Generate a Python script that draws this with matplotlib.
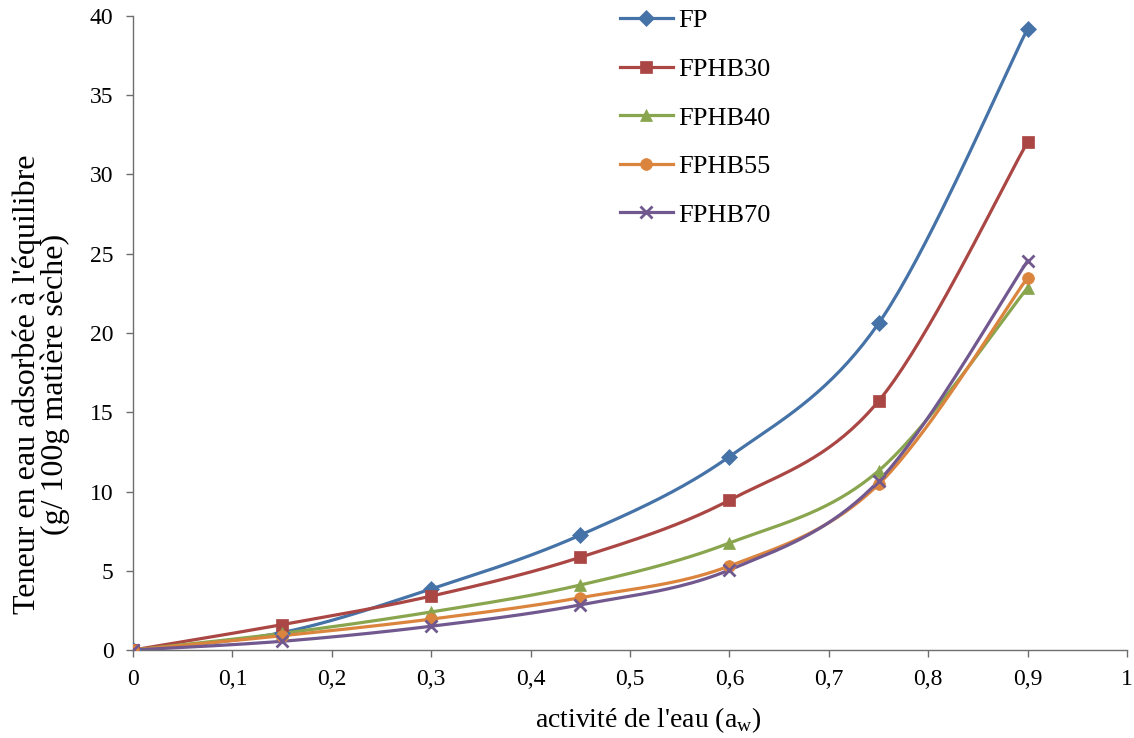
import numpy as np
import matplotlib
matplotlib.use("Agg")
import matplotlib.pyplot as plt
from matplotlib.lines import Line2D

aw = [0, 0.15, 0.3, 0.45, 0.6, 0.75, 0.9]
series_names = ["FP", "FPHB30", "FPHB40", "FPHB55", "FPHB70"]
fp = [0, 1.1, 3.85, 7.25, 12.2, 20.6, 39.2]
fphb30 = [0, 1.6, 3.4, 5.85, 9.45, 15.7, 32.05]
fphb40 = [0, 1.05, 2.4, 4.1, 6.75, 11.3, 22.85]
fphb55 = [0, 0.9, 1.95, 3.3, 5.3, 10.45, 23.5]
fphb70 = [0, 0.55, 1.5, 2.85, 5.05, 10.65, 24.55]
xticks = [0, 0.1, 0.2, 0.3, 0.4, 0.5, 0.6, 0.7, 0.8, 0.9, 1]
xticklabels = ["0", "0,1", "0,2", "0,3", "0,4", "0,5", "0,6", "0,7", "0,8", "0,9", "1"]
yticks = [0, 5, 10, 15, 20, 25, 30, 35, 40]

colors = ["#4572A7", "#AA4643", "#89A54E", "#DB843D", "#71588F"]
markers = ["D", "s", "^", "o", "x"]
msizes = [8, 8.5, 9, 8.5, 9]

plt.rcParams['font.family'] = ['Liberation Serif', 'DejaVu Serif']

def smooth(x, y, n=40):
    x = np.asarray(x, float); y = np.asarray(y, float)
    P = np.column_stack([x, y])
    Pe = np.vstack([P[0], P, P[-1]])
    out = []
    t = np.linspace(0, 1, n)[:, None]
    for i in range(len(P) - 1):
        p0, p1, p2, p3 = Pe[i], Pe[i+1], Pe[i+2], Pe[i+3]
        c1 = p1 + (p2 - p0) / 6
        c2 = p2 - (p3 - p1) / 6
        b = (1-t)**3*p1 + 3*(1-t)**2*t*c1 + 3*(1-t)*t**2*c2 + t**3*p2
        out.append(b if i == 0 else b[1:])
    B = np.vstack(out)
    return B[:, 0], B[:, 1]

fig = plt.figure(figsize=(11.34, 7.38), dpi=100)
ax = fig.add_axes([133/1134, 1-650/738, (1127-133)/1134, (650-16)/738])

data = [fp, fphb30, fphb40, fphb55, fphb70]
handles = []
for name, ys, c, m, ms in zip(series_names, data, colors, markers, msizes):
    sx, sy = smooth(aw, ys)
    ax.plot(sx, sy, color=c, lw=2.3, solid_capstyle='round', zorder=2)
    mew = 2 if m == 'x' else 0.5
    ax.plot(aw, ys, linestyle='none', marker=m, color=c, markersize=ms,
            markeredgewidth=mew, markeredgecolor=c, zorder=3)
    handles.append(Line2D([0], [0], color=c, lw=2.3, marker=m, markersize=ms,
                          markeredgewidth=mew, markeredgecolor=c))

ax.set_xlim(0, 1)
ax.set_ylim(0, 40)
ax.set_xticks(xticks)
ax.set_xticklabels(xticklabels)
ax.set_yticks(yticks)
for s in ['top', 'right']:
    ax.spines[s].set_visible(False)
for s in ['left', 'bottom']:
    ax.spines[s].set_color('#6e6e6e')
    ax.spines[s].set_linewidth(1)
ax.tick_params(axis='both', direction='out', length=5, width=1, color='#6e6e6e',
               labelsize=17, pad=9)

ax.set_xlabel("activité de l'eau (a$_\\mathregular{w}$)", fontsize=20)
ax.xaxis.set_label_coords((648 - 133)/994, -(705 - 650)/634)
ax.set_ylabel("Teneur en eau adsorbée à l'équilibre\n(g/ 100g matière sèche)", fontsize=23,
              linespacing=0.92)
ax.yaxis.set_label_coords((70 - 133)/994, (650-384)/634)

leg = fig.legend(handles, series_names, loc='upper left',
                 bbox_to_anchor=(620/1134, 1-9/738), frameon=False, fontsize=19,
                 handlelength=2.0, handletextpad=0.2, labelspacing=0.95,
                 borderpad=0, borderaxespad=0)

fig.savefig("out.png", dpi=100)
